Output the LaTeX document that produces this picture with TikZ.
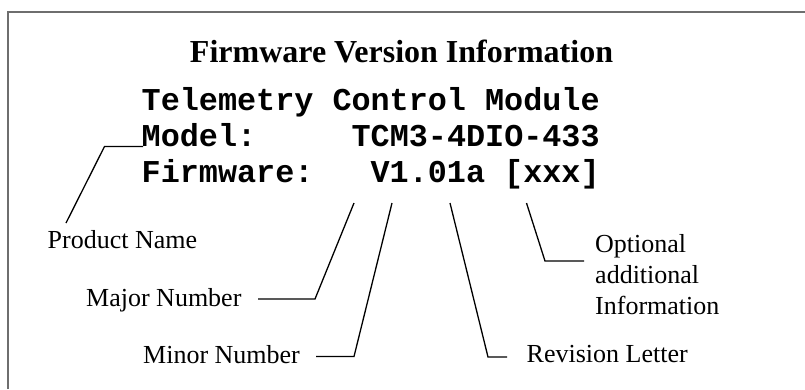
\documentclass[tikz,border=0pt]{standalone}
\usepackage{fontspec}
\setmainfont{Liberation Serif}
\setmonofont{Liberation Mono}
\definecolor{framecol}{RGB}{110,110,110}
\begin{document}
\begin{tikzpicture}[x=1pt,y=-1pt,
  titlefont/.style={font=\fontsize{32}{36}\selectfont\bfseries},
  codeline/.style={anchor=base west,inner sep=0pt,font=\fontsize{31.8}{36}\selectfont\ttfamily\bfseries},
  lbl/.style={anchor=base west,inner sep=0pt,font=\fontsize{26}{31}\selectfont},
  leader/.style={draw=black,line width=1.3pt,line join=miter}]
\useasboundingbox (0,0) rectangle (805,389);
\fill[white] (0,0) rectangle (805,389);
\draw[framecol,line width=1.2pt] (8,389) -- (8,12) -- (805,12);

\node[titlefont,anchor=base,inner sep=0pt] (title) at (401.5,62) {Firmware Version Information};
\node[codeline] (l1) at (141.5,110) {Telemetry Control Module};
\node[codeline] (l2) at (141.5,146) {Model:~~~~~TCM3-4DIO-433};
\node[codeline] (l3) at (141.5,182) {Firmware:~~~V1.01a [xxx]};

\node[lbl] (prod) at (47.5,248) {Product Name};
\node[lbl] (major) at (86,306.5) {Major Number};
\node[lbl] (minor) at (143,363) {Minor Number};
\node[lbl] (rev) at (526.5,362) {Revision Letter};
\node[lbl,align=left] (opt) at (595,314) {Optional\\additional\\Information};

\coordinate (prodA) at (66,223);
\coordinate (prodB) at (104.5,146.5);
\coordinate (prodC) at (143,146.5);
\coordinate (majA) at (258,299);
\coordinate (majB) at (315,299);
\coordinate (majC) at (354,203);
\coordinate (minA) at (316,356.5);
\coordinate (minB) at (354,356.5);
\coordinate (minC) at (392,203);
\coordinate (revA) at (450,203);
\coordinate (revB) at (488,357);
\coordinate (revC) at (507,357);
\coordinate (optA) at (526.5,203);
\coordinate (optB) at (545,261);
\coordinate (optC) at (584,261);

\draw[leader] (prodA) -- (prodB) -- (prodC);
\draw[leader] (majA) -- (majB) -- (majC);
\draw[leader] (minA) -- (minB) -- (minC);
\draw[leader] (revA) -- (revB) -- (revC);
\draw[leader] (optA) -- (optB) -- (optC);
\end{tikzpicture}
\end{document}
